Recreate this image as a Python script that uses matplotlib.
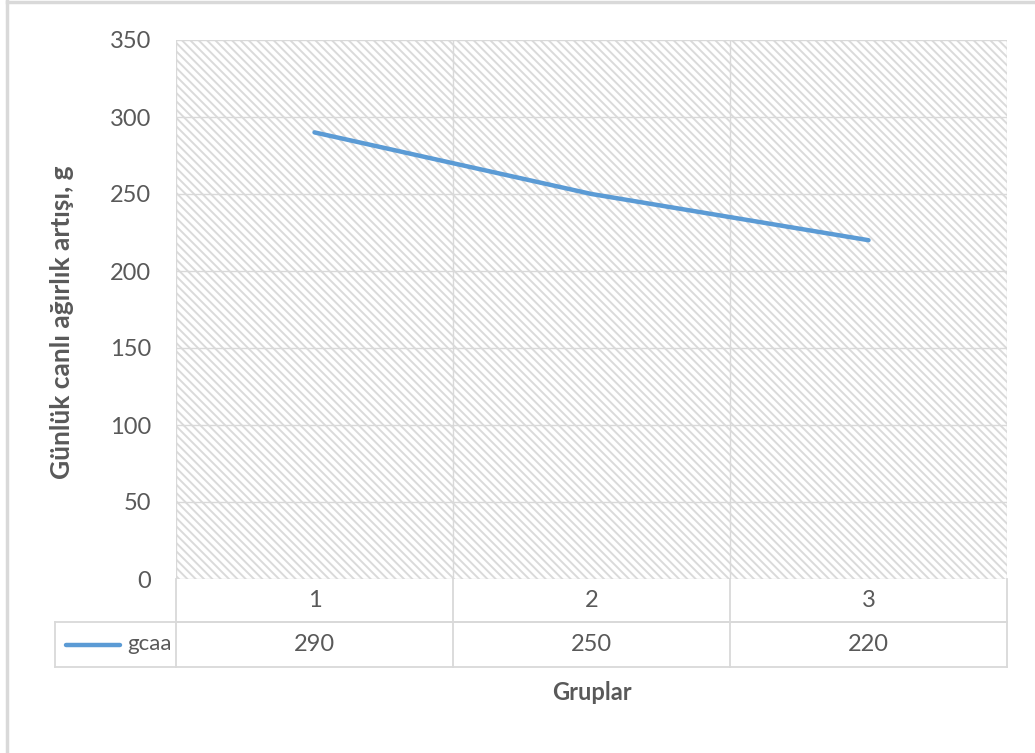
import matplotlib.pyplot as plt
from matplotlib.lines import Line2D
from matplotlib.patches import Rectangle
import matplotlib.transforms as mtransforms

groups = ['1', '2', '3']
gcaa = [290, 250, 220]
series_name = 'gcaa'
y_ticks = [0, 50, 100, 150, 200, 250, 300, 350]

plt.rcParams['font.family'] = ['Lato', 'DejaVu Sans']
plt.rcParams['hatch.linewidth'] = 1.4
plt.rcParams['hatch.color'] = '#dadada'

W, H = 1035, 753
fig = plt.figure(figsize=(W / 100, H / 100), dpi=100)

# plot area in pixel terms
left, right, top, bottom = 176, 1007, 40, 579
ax = fig.add_axes([left / W, 1 - bottom / H, (right - left) / W, (bottom - top) / H])

x = list(range(1, len(groups) + 1))
ax.set_xlim(0.5, len(groups) + 0.5)
ax.set_ylim(0, 350)

# hatched background
ax.add_patch(Rectangle((0, 0), 1, 1, transform=ax.transAxes, facecolor='white',
                       hatch='\\' * 4, edgecolor='#dadada', linewidth=0, zorder=0))

grid_c = '#d9d9d9'
for t in y_ticks:
    ax.axhline(t, color=grid_c, lw=1.0, zorder=1)
for b in [0.5 + i for i in range(len(groups) + 1)]:
    ax.axvline(b, color=grid_c, lw=1.0, zorder=1)

line_c = '#5b9bd5'
ax.plot(x, gcaa, color=line_c, lw=3.2, solid_capstyle='round', zorder=3)

ax.set_yticks(y_ticks)
ax.set_xticks([])
ax.tick_params(axis='y', length=0, pad=18, labelsize=17, labelcolor='#595959')
for s in ax.spines.values():
    s.set_visible(False)

# data table beneath the axes
to_ax = lambda py: (bottom - py) / (bottom - top)
trans = mtransforms.blended_transform_factory(ax.transData, ax.transAxes)
row1_bot = to_ax(622)
row2_bot = to_ax(667)
leg_left = 0.5 + (55 - left) / (right - left) * len(groups)
x_end = len(groups) + 0.5

def tline(xs, ys):
    ax.add_line(Line2D(xs, ys, transform=trans, color=grid_c, lw=1.3, clip_on=False))

tline([0.5, 0.5], [0, row2_bot])
for b in [1.5 + i for i in range(len(groups))]:
    tline([b, b], [0, row2_bot])
tline([0.5, x_end], [row1_bot, row1_bot])
tline([leg_left, x_end], [row1_bot, row1_bot])
tline([leg_left, x_end], [row2_bot, row2_bot])
tline([leg_left, leg_left], [row1_bot, row2_bot])

txt_c = '#595959'
mid1 = (0 + row1_bot) / 2
mid2 = (row1_bot + row2_bot) / 2
for xi, g, v in zip(x, groups, gcaa):
    ax.text(xi, mid1, g, transform=trans, ha='center', va='center',
            fontsize=17, color=txt_c, clip_on=False)
    ax.text(xi, mid2, str(v), transform=trans, ha='center', va='center',
            fontsize=17, color=txt_c, clip_on=False)

# legend key inside the table
key_l = 0.5 + (66 - left) / (right - left) * len(groups)
key_r = 0.5 + (120 - left) / (right - left) * len(groups)
ax.add_line(Line2D([key_l, key_r], [mid2, mid2], transform=trans, color=line_c,
                   lw=3.2, solid_capstyle='round', clip_on=False))
ax.text(0.5 + (172 - left) / (right - left) * len(groups), mid2, series_name,
        transform=trans, ha='right', va='center', fontsize=16, color=txt_c, clip_on=False)

# axis titles
fig.text(62 / W, 1 - 322 / H, 'Günlük canlı ağırlık artışı, g', rotation=90,
         ha='center', va='center', fontsize=19, fontweight='bold', color=txt_c)
fig.text(592 / W, 1 - 692 / H, 'Gruplar', ha='center', va='center',
         fontsize=17, fontweight='bold', color=txt_c)

# chart frame
fig.add_artist(Line2D([7 / W, 7 / W], [0, 1 - 1 / H], color='#d9d9d9', lw=2.5))
fig.add_artist(Line2D([7 / W, 1], [1 - 2 / H, 1 - 2 / H], color='#d9d9d9', lw=2.5))

fig.savefig('out.png', dpi=100)
